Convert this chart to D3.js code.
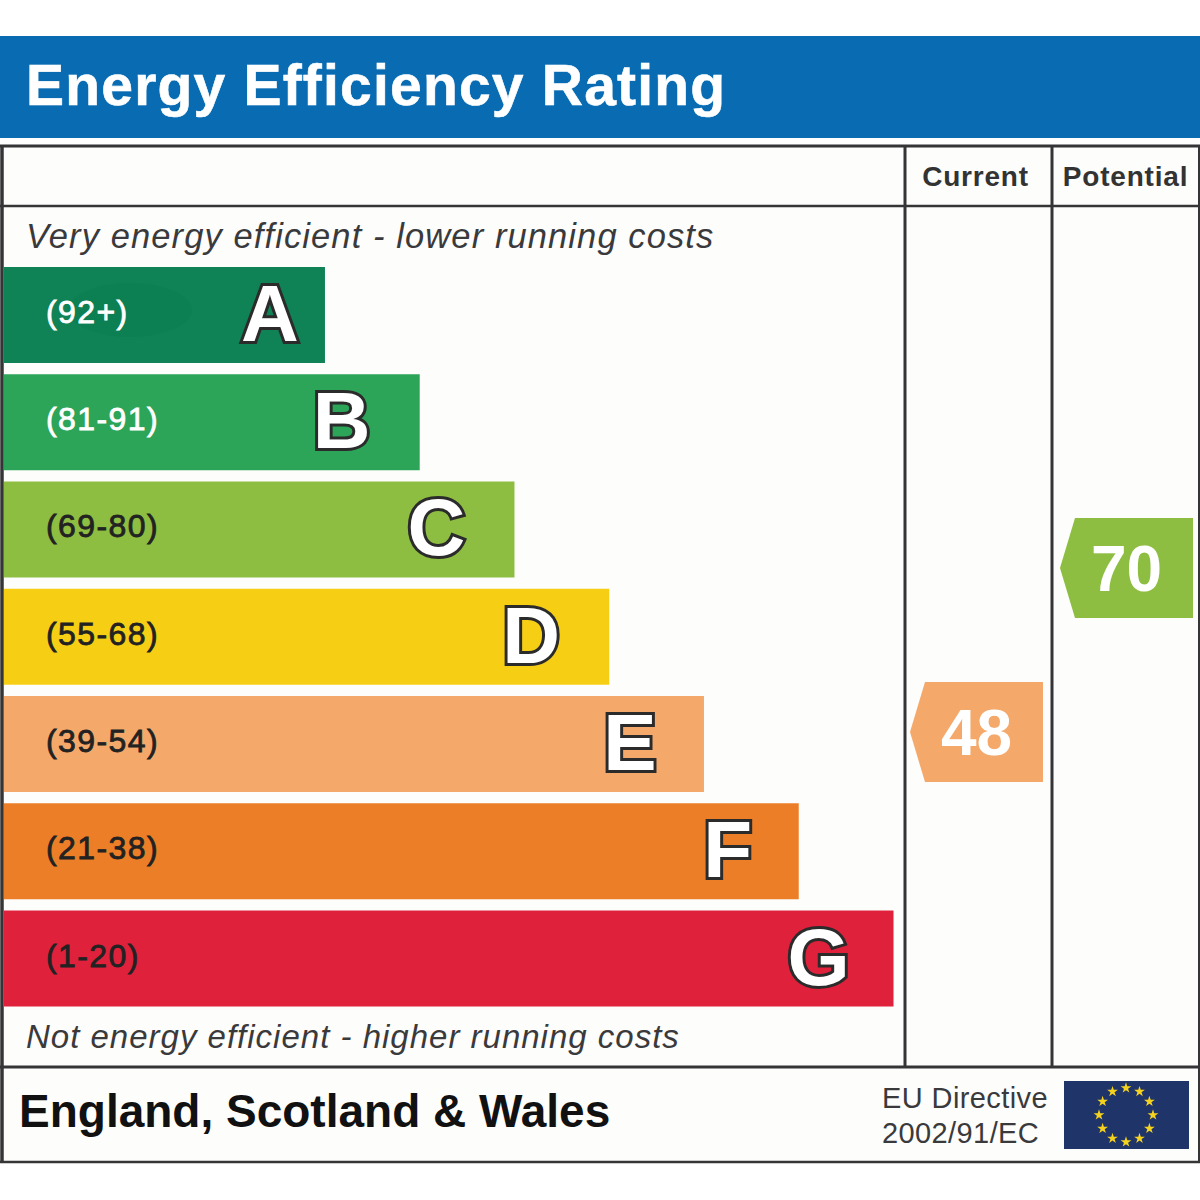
<!DOCTYPE html>
<html>
<head>
<meta charset="utf-8">
<script src="https://d3js.org/d3.v7.min.js"></script>
<style>
	html, body { margin: 0; padding: 0; background: #fff; }
	svg { display: block; }
	text { font-family: "Liberation Sans", Arial, sans-serif; }
</style>
</head>
<body>
<svg width="1200" height="1200"></svg>
<script>
// the data
const bands = ['A', 'B', 'C', 'D', 'E', 'F', 'G'];
const ranges = ['(92+)', '(81-91)', '(69-80)', '(55-68)', '(39-54)', '(21-38)', '(1-20)'];
const barSteps = [1, 2, 3, 4, 5, 6, 7];
const colors = ['#0f8256', '#2ca559', '#8dbd41', '#f6cf15', '#f4a96b', '#ec7e27', '#e0213c'];
const rangeColors = ['#fff', '#fff', '#222', '#222', '#222', '#222', '#222'];
const columns = ['Current', 'Potential'];
const scores = [48, 70];
const scoreColors = ['#f4a96b', '#8dbd41'];
const starSlots = d3.range(12);

const svg = d3.select('svg');

// scales
const y = d3.scaleBand().domain(bands).range([267, 1006.5]).paddingInner(0.105).paddingOuter(0);
const x = d3.scaleLinear().domain([0, 7]).range([230.2, 893.5]);
const scoreY = d3.scaleLinear().domain([0, 100]).range([1089.8, 344.5]);
const colCenter = d3.scaleOrdinal().domain(columns).range([976.5, 1126.5]);
// how far each big letter sits in from the end of its bar
const letterInset = d3.scaleOrdinal().domain(bands).range([55, 78, 78, 78, 74, 71, 75]);

// panel
svg.append('rect').attr('x', 0).attr('y', 145).attr('width', 1199).attr('height', 1017).attr('fill', '#fdfdfb');

// title banner
svg.append('rect').attr('x', 0).attr('y', 36).attr('width', 1200).attr('height', 102).attr('fill', '#096cb3');
svg.append('text')
	.attr('x', 26).attr('y', 105)
	.attr('font-size', 57).attr('font-weight', 700)
	.attr('letter-spacing', 1.2)
	.attr('fill', '#fff')
	.attr('stroke', '#fff').attr('stroke-width', 0.6)
	.text('Energy Efficiency Rating');

// frame lines
const lines = [
	[0, 146, 1200, 146, 3],
	[0, 206, 1200, 206, 2.5],
	[0, 1067, 1200, 1067, 3],
	[0, 1162, 1200, 1162, 2.5],
	[2, 145, 2, 1162, 3.5],
	[905, 145, 905, 1067, 3],
	[1052, 145, 1052, 1067, 3],
	[1199, 145, 1199, 1162, 2]
];
svg.append('g').selectAll('line')
	.data(lines)
	.enter()
	.append('line')
	.attr('x1', (d) => d[0]).attr('y1', (d) => d[1])
	.attr('x2', (d) => d[2]).attr('y2', (d) => d[3])
	.attr('stroke-width', (d) => d[4])
	.attr('stroke', '#353537');

// column headers
svg.append('g').selectAll('text')
	.data(columns)
	.enter()
	.append('text')
	.attr('x', (d) => colCenter(d) - 1)
	.attr('y', 186)
	.attr('text-anchor', 'middle')
	.attr('font-size', 28).attr('font-weight', 700)
	.attr('letter-spacing', 0.8)
	.attr('fill', '#333')
	.text((d) => d);

// captions
svg.append('text')
	.attr('x', 26).attr('y', 248)
	.attr('font-size', 34.5).attr('font-style', 'italic')
	.attr('letter-spacing', 1.1)
	.attr('fill', '#3a3a3c')
	.text('Very energy efficient - lower running costs');
svg.append('text')
	.attr('x', 26).attr('y', 1048)
	.attr('font-size', 33).attr('font-style', 'italic')
	.attr('letter-spacing', 1)
	.attr('fill', '#3a3a3c')
	.text('Not energy efficient - higher running costs');

// the bars
const rows = svg.append('g').selectAll('g')
	.data(bands)
	.enter()
	.append('g');

rows.append('rect')
	.attr('x', 4)
	.attr('y', (d) => y(d))
	.attr('width', (d, i) => x(barSteps[i]) - 4)
	.attr('height', y.bandwidth())
	.attr('fill', (d, i) => colors[i]);

// darker smudge in the first bar, under its label
rows.filter((d) => d === 'A')
	.append('ellipse')
	.attr('cx', 130).attr('cy', 310)
	.attr('rx', 62).attr('ry', 27)
	.attr('fill', '#0c8053');

rows.append('text')
	.attr('x', 46)
	.attr('y', (d) => y(d) + y.bandwidth() / 2 + 8)
	.attr('font-size', 32)
	.attr('letter-spacing', 1.4)
	.attr('stroke-width', 0.8)
	.attr('stroke', (d, i) => rangeColors[i])
	.attr('fill', (d, i) => rangeColors[i])
	.text((d, i) => ranges[i]);

rows.append('text')
	.attr('x', (d, i) => x(barSteps[i]) - letterInset(d))
	.attr('y', (d) => y(d) + y.bandwidth() / 2 + 26)
	.attr('text-anchor', 'middle')
	.attr('font-size', 80).attr('font-weight', 700)
	.attr('fill', '#fff')
	.attr('stroke', '#2b2b2b').attr('stroke-width', 6)
	.attr('stroke-linejoin', 'miter')
	.attr('paint-order', 'stroke')
	.text((d) => d);

// score arrows
const arrow = (d, i) => {
	const left = colCenter(columns[i]) - 66.5;
	const right = colCenter(columns[i]) + 66.5;
	const mid = scoreY(d);
	const path = d3.path();
	path.moveTo(left, mid);
	path.lineTo(left + 15, mid - 50);
	path.lineTo(right, mid - 50);
	path.lineTo(right, mid + 50);
	path.lineTo(left + 15, mid + 50);
	path.closePath();
	return path.toString();
};
const marks = svg.append('g').selectAll('g')
	.data(scores)
	.enter()
	.append('g');
marks.append('path')
	.attr('d', arrow)
	.attr('fill', (d, i) => scoreColors[i]);
marks.append('text')
	.attr('x', (d, i) => colCenter(columns[i]))
	.attr('y', (d) => scoreY(d) + 23)
	.attr('text-anchor', 'middle')
	.attr('font-size', 64).attr('font-weight', 700)
	.attr('fill', '#fff')
	.text((d) => d);

// footer
svg.append('text')
	.attr('x', 19).attr('y', 1127)
	.attr('font-size', 46).attr('font-weight', 700)
	.attr('fill', '#111')
	.text('England, Scotland & Wales');
svg.append('text')
	.attr('x', 882).attr('y', 1108)
	.attr('font-size', 29)
	.attr('letter-spacing', 0.4)
	.attr('fill', '#3a3a3c')
	.text('EU Directive');
svg.append('text')
	.attr('x', 882).attr('y', 1143)
	.attr('font-size', 29)
	.attr('letter-spacing', 0.4)
	.attr('fill', '#3a3a3c')
	.text('2002/91/EC');

// EU flag
svg.append('rect')
	.attr('x', 1064).attr('y', 1081)
	.attr('width', 125).attr('height', 68)
	.attr('fill', '#1f3569');
const star = d3.symbol().type(d3.symbolStar).size(36);
svg.append('g').selectAll('path')
	.data(starSlots)
	.enter()
	.append('path')
	.attr('d', star)
	.attr('fill', '#f5d21e')
	.attr('transform', (d) => {
		const a = d / 12 * 2 * Math.PI;
		return `translate(${1126 + 27 * Math.sin(a)},${1115 - 27 * Math.cos(a)})`;
	});
</script>
</body>
</html>
